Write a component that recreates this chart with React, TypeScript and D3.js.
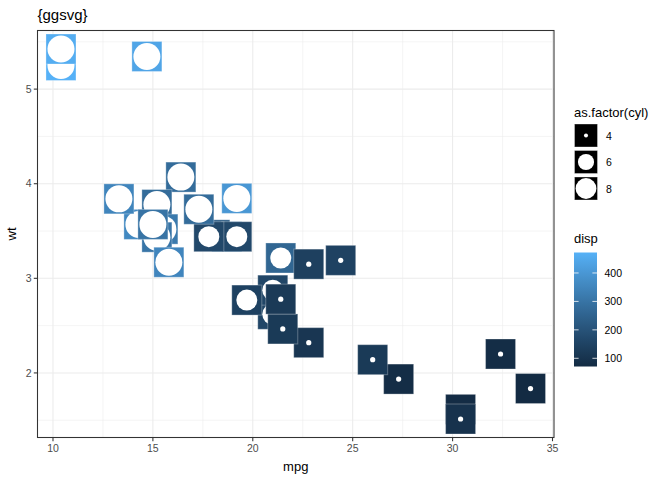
import React from 'react';
import * as d3 from 'd3';

const mpg = [21, 21, 22.8, 21.4, 18.7, 18.1, 14.3, 24.4, 22.8, 19.2, 17.8, 16.4, 17.3, 15.2, 10.4, 10.4, 14.7, 32.4, 30.4, 33.9, 21.5, 15.5, 15.2, 13.3, 19.2, 27.3, 26, 30.4, 15.8, 19.7, 15, 21.4];
const wt = [2.62, 2.875, 2.32, 3.215, 3.44, 3.46, 3.57, 3.19, 3.15, 3.44, 3.44, 4.07, 3.73, 3.78, 5.25, 5.424, 5.345, 2.2, 1.615, 1.835, 2.465, 3.52, 3.435, 3.84, 3.845, 1.935, 2.14, 1.513, 3.17, 2.77, 3.57, 2.78];
const cyl = [6, 6, 4, 6, 8, 6, 8, 4, 4, 6, 6, 8, 8, 8, 8, 8, 8, 4, 4, 4, 4, 8, 8, 8, 8, 4, 4, 4, 8, 6, 8, 4];
const disp = [160, 160, 108, 258, 360, 225, 360, 146.7, 140.8, 167.6, 167.6, 275.8, 275.8, 275.8, 472, 460, 440, 78.7, 75.7, 71.1, 120.1, 318, 304, 350, 400, 79, 120.3, 95.1, 351, 145, 301, 121];

const xTicks = [10, 15, 20, 25, 30, 35];
const yTicks = [2, 3, 4, 5];
const cylLevels = [4, 6, 8];
const dispTicks = [100, 200, 300, 400];

const FONT = "'Liberation Sans', Arial, Helvetica, sans-serif";

export default function App() {
  const W = 672, H = 480;
  const pl = 37.5, pr = 554, pt = 30.5, pb = 437.5;
  const xmin = d3.min(mpg)!, xmax = d3.max(mpg)!;
  const ymin = d3.min(wt)!, ymax = d3.max(wt)!;
  const xe = (xmax - xmin) * 0.05, ye = (ymax - ymin) * 0.05;
  const x = d3.scaleLinear().domain([xmin - xe, xmax + xe]).range([pl, pr]);
  const y = d3.scaleLinear().domain([ymin - ye, ymax + ye]).range([pb, pt]);
  const dmin = d3.min(disp)!, dmax = d3.max(disp)!;
  const color = d3.scaleLinear<string>().domain([dmin, dmax]).range(['#132B43', '#56B1F7']).interpolate(d3.interpolateLab);
  const circleR: Record<number, number> = { 4: 2.6, 6: 10.5, 8: 13.5 };
  const sq = 30;

  const xMinor = xTicks.slice(0, -1).map((t) => t + 2.5).concat([xTicks[0] - 2.5]).filter((t) => t >= x.domain()[0] && t <= x.domain()[1]);
  const yMinor = [1.5, 2.5, 3.5, 4.5, 5.5].filter((t) => t >= y.domain()[0] && t <= y.domain()[1]);

  // colourbar
  const cbX = 574, cbTop = 252.5, cbBot = 366.5, cbW = 23;
  const cb = d3.scaleLinear().domain([dmin, dmax]).range([cbBot, cbTop]);
  const stops = d3.range(0, 21).map((i) => i / 20);

  const order = d3.range(mpg.length);

  return (
    <svg width={W} height={H} style={{ position: 'absolute', left: 0, top: 0, fontFamily: FONT }}>
      <rect x={0} y={0} width={W} height={H} fill="#fff" />
      <defs>
        <linearGradient id="cbg" x1="0" y1="1" x2="0" y2="0">
          {stops.map((s) => (
            <stop key={s} offset={s} stopColor={color(dmin + s * (dmax - dmin))} />
          ))}
        </linearGradient>
      </defs>
      {/* grid */}
      {yMinor.map((t) => (
        <line key={'ym' + t} x1={pl} x2={pr} y1={y(t)} y2={y(t)} stroke="#EBEBEB" strokeWidth={0.55} />
      ))}
      {xMinor.map((t) => (
        <line key={'xm' + t} y1={pt} y2={pb} x1={x(t)} x2={x(t)} stroke="#EBEBEB" strokeWidth={0.55} />
      ))}
      {yTicks.map((t) => (
        <line key={'yM' + t} x1={pl} x2={pr} y1={y(t)} y2={y(t)} stroke="#EBEBEB" strokeWidth={1.07} />
      ))}
      {xTicks.map((t) => (
        <line key={'xM' + t} y1={pt} y2={pb} x1={x(t)} x2={x(t)} stroke="#EBEBEB" strokeWidth={1.07} />
      ))}
      {/* points */}
      {order.map((i) => {
        const cx = x(mpg[i]), cy = y(wt[i]);
        return (
          <g key={i}>
            <rect x={cx - sq / 2} y={cy - sq / 2} width={sq} height={sq} fill={color(disp[i])} stroke="rgba(255,255,255,0.3)" strokeWidth={1} />
            <circle cx={cx} cy={cy} r={circleR[cyl[i]]} fill="#fff" />
          </g>
        );
      })}
      {/* border */}
      <rect x={pl} y={pt} width={pr - pl} height={pb - pt} fill="none" stroke="#333" strokeWidth={1.07} />
      {/* axes ticks */}
      {xTicks.map((t) => (
        <g key={'xt' + t}>
          <line x1={x(t)} x2={x(t)} y1={pb} y2={pb + 3.7} stroke="#333" strokeWidth={1.07} />
          <text x={x(t)} y={pb + 14} fontSize={10.5} fill="#4D4D4D" textAnchor="middle">{t}</text>
        </g>
      ))}
      {yTicks.map((t) => (
        <g key={'yt' + t}>
          <line x1={pl - 3.7} x2={pl} y1={y(t)} y2={y(t)} stroke="#333" strokeWidth={1.07} />
          <text x={pl - 6} y={y(t) + 3.7} fontSize={10.5} fill="#4D4D4D" textAnchor="end">{t}</text>
        </g>
      ))}
      <text x={(pl + pr) / 2} y={471} fontSize={13} textAnchor="middle" fill="#000">mpg</text>
      <text transform={`translate(16,${(pt + pb) / 2}) rotate(-90)`} fontSize={13} textAnchor="middle" fill="#000">wt</text>
      <text x={pl} y={20} fontSize={15} fill="#000">{'{ggsvg}'}</text>
      {/* cyl legend */}
      <text x={cbX} y={117} fontSize={13} fill="#000">as.factor(cyl)</text>
      {cylLevels.map((c, i) => {
        const ky = 124 + i * 26.5;
        return (
          <g key={'k' + c}>
            <rect x={cbX + 0.5} y={ky} width={23} height={23} fill="#000" stroke="rgba(255,255,255,0.35)" strokeWidth={1} />
            <circle cx={cbX + 12} cy={ky + 11.5} r={circleR[c] * 0.77} fill="#fff" />
            <text x={cbX + 32} y={ky + 15.5} fontSize={10.5} fill="#000">{c}</text>
          </g>
        );
      })}
      {/* disp colourbar */}
      <text x={cbX} y={243} fontSize={13} fill="#000">disp</text>
      <rect x={cbX} y={cbTop} width={cbW} height={cbBot - cbTop} fill="url(#cbg)" />
      {dispTicks.map((t) => (
        <g key={'d' + t}>
          <line x1={cbX} x2={cbX + 4.6} y1={cb(t)} y2={cb(t)} stroke="#fff" strokeWidth={0.8} />
          <line x1={cbX + cbW - 4.6} x2={cbX + cbW} y1={cb(t)} y2={cb(t)} stroke="#fff" strokeWidth={0.8} />
          <text x={cbX + cbW + 7.5} y={cb(t) + 3.8} fontSize={10.5} fill="#000">{t}</text>
        </g>
      ))}
    </svg>
  );
}
